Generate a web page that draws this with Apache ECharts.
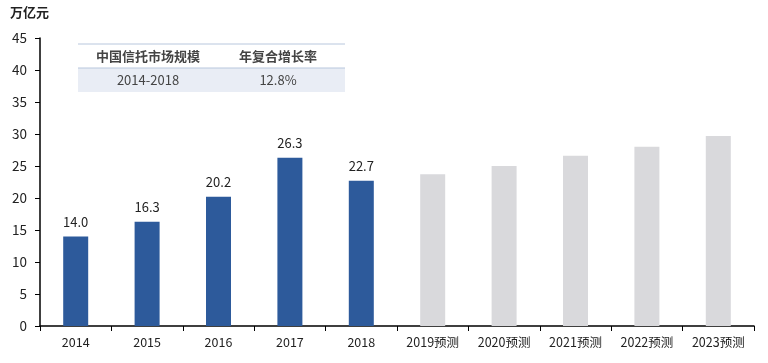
<!DOCTYPE html>
<html><head><meta charset="utf-8">
<script src="https://cdn.jsdelivr.net/npm/echarts@6/dist/echarts.min.js"></script>
<style>html,body{margin:0;padding:0;background:#fff}#c{width:768px;height:363px}</style>
</head><body><div id="c"></div>
<script>
const categories = ['2014','2015','2016','2017','2018','2019预测','2020预测','2021预测','2022预测','2023预测'];
const actualValues = [14.0, 16.3, 20.2, 26.3, 22.7, null, null, null, null, null];
const forecastValues = [null, null, null, null, null, 23.7, 25.0, 26.6, 28.0, 29.7];
const yTicks = {min: 0, max: 45, interval: 5};
const unitLabel = '万亿元';
const tableHeader = ['中国信托市场规模', '年复合增长率'];
const tableRow = ['2014-2018', '12.8%'];

const font = '"Noto Sans CJK SC", "Noto Sans", sans-serif';
const chart = echarts.init(document.getElementById('c'));
chart.setOption({
  animation: false,
  grid: {left: 40, right: 14, top: 38, bottom: 37},
  xAxis: {
    type: 'category', data: categories,
    axisLine: {lineStyle: {color: '#000', width: 1.5}},
    axisTick: {show: true, length: 5, lineStyle: {color: '#000'}},
    axisLabel: {color: '#222', fontSize: 12.5, fontFamily: font, margin: 10}
  },
  yAxis: {
    type: 'value', min: yTicks.min, max: yTicks.max, interval: yTicks.interval,
    axisLine: {show: true, lineStyle: {color: '#000', width: 1.5}},
    axisTick: {show: true, length: 5, lineStyle: {color: '#000'}},
    splitLine: {show: false},
    axisLabel: {color: '#222', fontSize: 13.5, fontFamily: font, margin: 13}
  },
  graphic: [
    {type: 'text', left: 10, top: 6, style: {text: unitLabel, font: 'bold 13px ' + font, fill: '#222'}},
    {type: 'rect', shape: {x: 78, y: 68, width: 267, height: 24}, style: {fill: '#E9EDF5'}},
    {type: 'line', shape: {x1: 78, y1: 44, x2: 345, y2: 44}, style: {stroke: '#B8C7DD', lineWidth: 1}},
    {type: 'line', shape: {x1: 78, y1: 68, x2: 345, y2: 68}, style: {stroke: '#B8C7DD', lineWidth: 1}},
    {type: 'text', x: 148, y: 56, style: {text: tableHeader[0], font: 'bold 13px ' + font, fill: '#444', align: 'center', verticalAlign: 'middle'}},
    {type: 'text', x: 278, y: 56, style: {text: tableHeader[1], font: 'bold 13px ' + font, fill: '#444', align: 'center', verticalAlign: 'middle'}},
    {type: 'text', x: 148, y: 80, style: {text: tableRow[0], font: '13px ' + font, fill: '#444', align: 'center', verticalAlign: 'middle'}},
    {type: 'text', x: 278, y: 80, style: {text: tableRow[1], font: '13px ' + font, fill: '#444', align: 'center', verticalAlign: 'middle'}}
  ],
  series: [
    {type: 'bar', data: actualValues, barWidth: 25, barGap: '-100%', itemStyle: {color: '#2D5A9B'},
     label: {show: true, position: 'top', color: '#222', fontSize: 13, fontFamily: font, distance: 8,
             formatter: p => p.value.toFixed(1)}},
    {type: 'bar', data: forecastValues, barWidth: 25, itemStyle: {color: '#D9D9DC'}}
  ]
});
</script></body></html>
